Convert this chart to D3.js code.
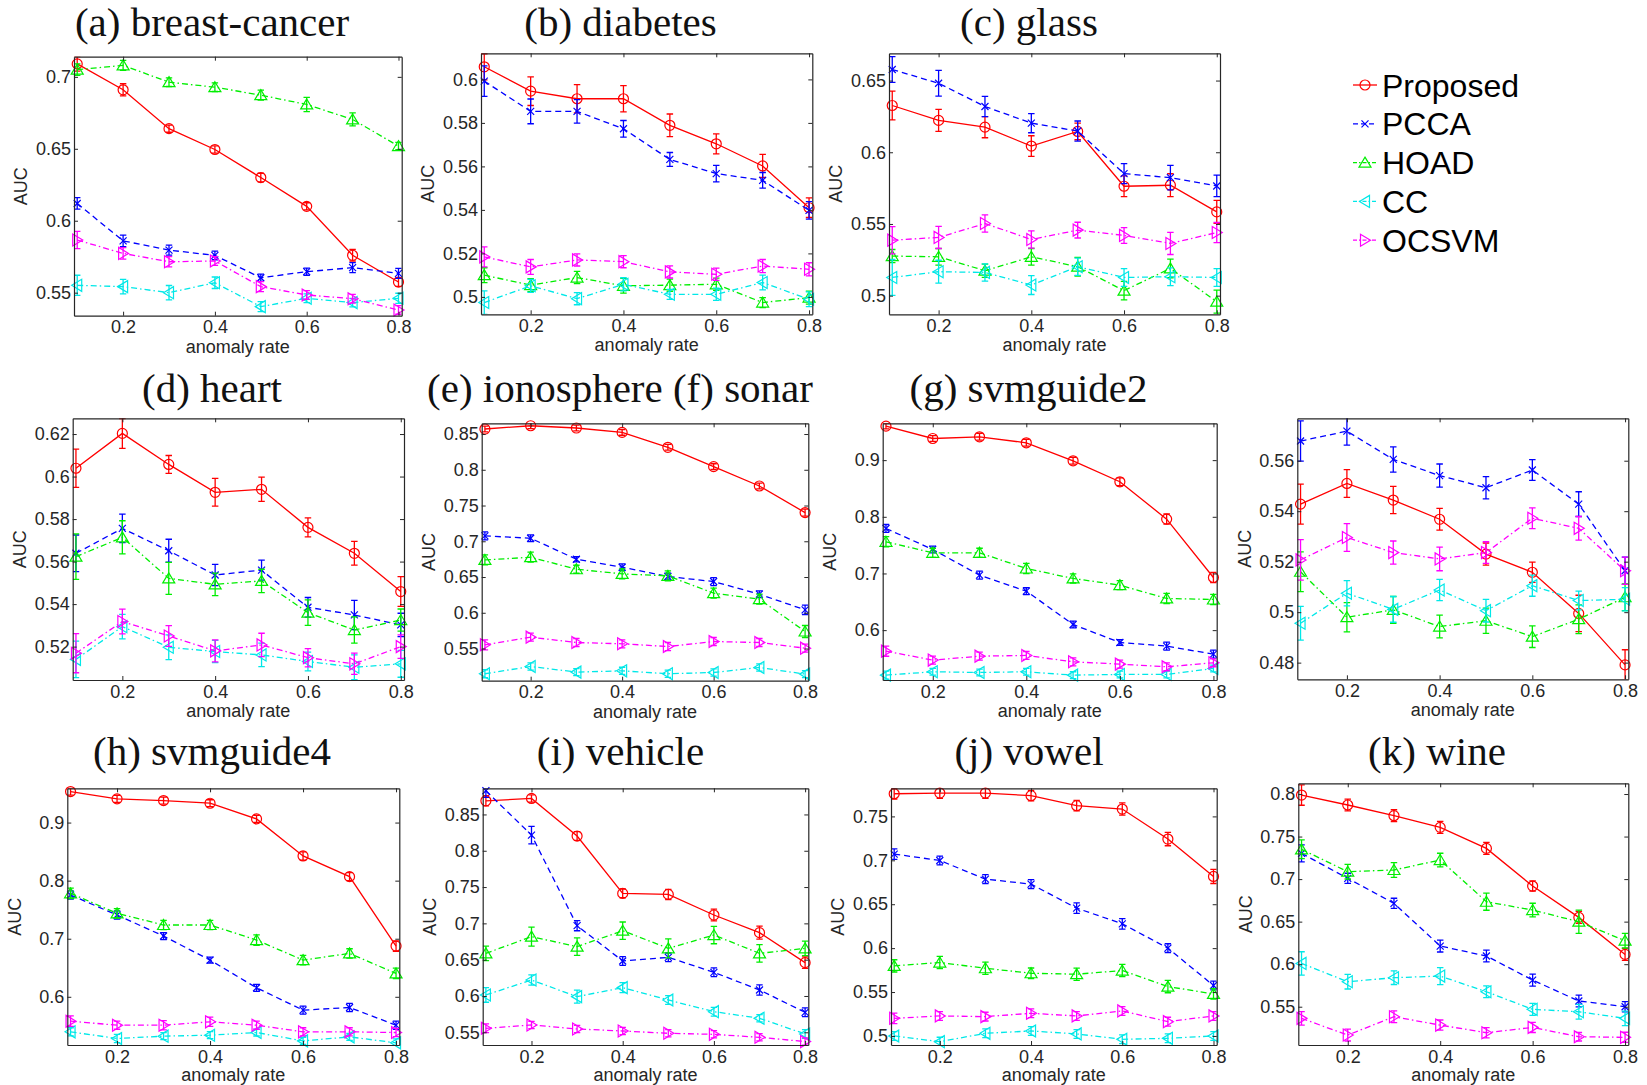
<!DOCTYPE html>
<html>
<head>
<meta charset="utf-8">
<script src="https://cdn.jsdelivr.net/npm/d3@7"></script>
<style>
  body { margin: 0; background: #fff; }
  svg text { font-family: 'Liberation Sans', Arial, sans-serif; }
</style>
</head>
<body>
<svg id="fig" width="1647" height="1085"></svg>
<script>
// x values shared by every panel
const rates = [0.1, 0.2, 0.3, 0.4, 0.5, 0.6, 0.7, 0.8]
const xTicks = [0.2, 0.4, 0.6, 0.8]
const methods = ['Proposed', 'PCCA', 'HOAD', 'CC', 'OCSVM']

// rows: Proposed, PCCA, HOAD, CC, OCSVM
const breastCancerAuc = [
	[0.709, 0.691, 0.664, 0.6495, 0.630, 0.610, 0.576, 0.5574],
	[0.612, 0.586, 0.5796, 0.5759, 0.5604, 0.5646, 0.5674, 0.5634],
	[0.705, 0.708, 0.6963, 0.6928, 0.6873, 0.6808, 0.6704, 0.6519],
	[0.5551, 0.5542, 0.550, 0.5569, 0.5403, 0.5461, 0.5431, 0.5461],
	[0.5866, 0.5773, 0.5715, 0.572, 0.5542, 0.5484, 0.5458, 0.538]
]
const breastCancerErr = [
	[0.005, 0.0042, 0.0025, 0.0025, 0.003, 0.0025, 0.004, 0.003],
	[0.004, 0.004, 0.0035, 0.003, 0.0025, 0.0025, 0.0035, 0.0035],
	[0.004, 0.0035, 0.003, 0.003, 0.0035, 0.005, 0.0045, 0.0025],
	[0.007, 0.005, 0.005, 0.004, 0.0035, 0.003, 0.003, 0.0035],
	[0.006, 0.004, 0.0035, 0.003, 0.0035, 0.003, 0.003, 0.003]
]
const breastCancerTicks = [0.55, 0.6, 0.65, 0.7]

const diabetesAuc = [
	[0.6058, 0.5946, 0.5911, 0.5911, 0.5789, 0.5704, 0.5602, 0.541],
	[0.5992, 0.5853, 0.5853, 0.5773, 0.5632, 0.5567, 0.5536, 0.5398],
	[0.510, 0.5054, 0.5089, 0.5051, 0.5054, 0.5058, 0.4974, 0.4997],
	[0.4974, 0.5051, 0.4992, 0.5058, 0.5012, 0.5012, 0.5066, 0.4989],
	[0.5184, 0.5138, 0.517, 0.5162, 0.5115, 0.5104, 0.5142, 0.5127]
]
const diabetesErr = [
	[0.006, 0.0066, 0.0065, 0.006, 0.0052, 0.0046, 0.0053, 0.0045],
	[0.007, 0.0057, 0.0054, 0.0038, 0.0032, 0.0038, 0.0036, 0.004],
	[0.0034, 0.003, 0.0028, 0.0034, 0.0028, 0.0028, 0.0023, 0.003],
	[0.0054, 0.003, 0.0028, 0.003, 0.0023, 0.0028, 0.0034, 0.0034],
	[0.0046, 0.0034, 0.0028, 0.0028, 0.0028, 0.0028, 0.003, 0.003]
]
const diabetesTicks = [0.5, 0.52, 0.54, 0.56, 0.58, 0.6]

const glassAuc = [
	[0.6326, 0.6222, 0.6175, 0.6043, 0.6145, 0.5763, 0.577, 0.5584],
	[0.6577, 0.6481, 0.6319, 0.6203, 0.6148, 0.5851, 0.5823, 0.5765],
	[0.5276, 0.5271, 0.5174, 0.5271, 0.5202, 0.5035, 0.519, 0.4958],
	[0.5127, 0.5167, 0.5162, 0.5074, 0.5202, 0.5127, 0.5132, 0.5127],
	[0.5387, 0.5406, 0.5503, 0.5392, 0.5457, 0.542, 0.5364, 0.544]
]
const glassErr = [
	[0.01, 0.0077, 0.0074, 0.0072, 0.0058, 0.0072, 0.008, 0.008],
	[0.009, 0.009, 0.007, 0.0067, 0.007, 0.007, 0.0086, 0.0075],
	[0.0046, 0.0058, 0.0046, 0.0058, 0.0065, 0.0065, 0.0065, 0.008],
	[0.0125, 0.008, 0.006, 0.0066, 0.006, 0.0062, 0.0062, 0.0062],
	[0.0095, 0.0077, 0.006, 0.006, 0.0055, 0.0055, 0.0077, 0.007]
]
const glassTicks = [0.5, 0.55, 0.6, 0.65]

const heartAuc = [
	[0.6039, 0.6203, 0.6057, 0.5926, 0.594, 0.5761, 0.5639, 0.5459],
	[0.5639, 0.5756, 0.5651, 0.5537, 0.556, 0.5385, 0.5349, 0.5302],
	[0.5623, 0.5714, 0.5521, 0.5493, 0.5509, 0.536, 0.5278, 0.5325],
	[0.514, 0.5294, 0.5197, 0.5177, 0.5161, 0.513, 0.5103, 0.5119],
	[0.5169, 0.5318, 0.525, 0.518, 0.5208, 0.5148, 0.5119, 0.52]
]
const heartErr = [
	[0.009, 0.007, 0.0042, 0.0065, 0.0057, 0.0045, 0.0056, 0.007],
	[0.0086, 0.0067, 0.0054, 0.005, 0.0047, 0.0046, 0.0069, 0.0055],
	[0.0107, 0.0078, 0.0075, 0.0053, 0.0055, 0.006, 0.0062, 0.0052],
	[0.0086, 0.0058, 0.0058, 0.0052, 0.0055, 0.0044, 0.0058, 0.0063],
	[0.0092, 0.0058, 0.0049, 0.0052, 0.0055, 0.0043, 0.005, 0.0055]
]
const heartTicks = [0.52, 0.54, 0.56, 0.58, 0.6, 0.62]

const ionosphereAuc = [
	[0.857, 0.8616, 0.8584, 0.8523, 0.8314, 0.8044, 0.7773, 0.7401],
	[0.7075, 0.7042, 0.6749, 0.6637, 0.6507, 0.6437, 0.626, 0.6041],
	[0.6739, 0.6777, 0.6609, 0.6544, 0.6516, 0.6274, 0.619, 0.5738],
	[0.5147, 0.5249, 0.517, 0.5188, 0.5147, 0.5165, 0.5235, 0.5142],
	[0.5552, 0.5659, 0.5584, 0.5566, 0.5528, 0.5598, 0.5584, 0.5505]
]
const ionosphereErr = [
	[0.004, 0.004, 0.004, 0.004, 0.004, 0.004, 0.004, 0.005],
	[0.0056, 0.0047, 0.0037, 0.0047, 0.0047, 0.0056, 0.0047, 0.0065],
	[0.007, 0.007, 0.0056, 0.007, 0.007, 0.007, 0.007, 0.0084],
	[0.0056, 0.005, 0.005, 0.005, 0.005, 0.005, 0.005, 0.005],
	[0.007, 0.0056, 0.0056, 0.0056, 0.0056, 0.0056, 0.0056, 0.0056]
]
const ionosphereTicks = [0.55, 0.6, 0.65, 0.7, 0.75, 0.8, 0.85]

const svmguide2Auc = [
	[0.960, 0.9382, 0.9412, 0.9306, 0.8988, 0.8618, 0.7959, 0.6929],
	[0.7794, 0.7424, 0.6971, 0.6688, 0.610, 0.5782, 0.5718, 0.5576],
	[0.7559, 0.7365, 0.7365, 0.7088, 0.6912, 0.6794, 0.6559, 0.6541],
	[0.5206, 0.5265, 0.5253, 0.5265, 0.5206, 0.5218, 0.5218, 0.5324],
	[0.5629, 0.5471, 0.5541, 0.5553, 0.5441, 0.540, 0.5353, 0.5424]
]
const svmguide2Err = [
	[0.005, 0.005, 0.006, 0.006, 0.006, 0.007, 0.009, 0.009],
	[0.007, 0.006, 0.007, 0.006, 0.006, 0.005, 0.007, 0.007],
	[0.009, 0.008, 0.008, 0.009, 0.008, 0.008, 0.009, 0.009],
	[0.007, 0.006, 0.006, 0.006, 0.006, 0.006, 0.006, 0.006],
	[0.009, 0.007, 0.007, 0.007, 0.007, 0.007, 0.007, 0.007]
]
const svmguide2Ticks = [0.6, 0.7, 0.8, 0.9]

// fourth panel of the second row has no title in the figure
const untitledAuc = [
	[0.5428, 0.551, 0.5444, 0.5368, 0.523, 0.5158, 0.4995, 0.4791],
	[0.5678, 0.5717, 0.5605, 0.5541, 0.5493, 0.5563, 0.5428, 0.5164],
	[0.516, 0.498, 0.5009, 0.4943, 0.4966, 0.4903, 0.4972, 0.5059],
	[0.4956, 0.5075, 0.5011, 0.5088, 0.5006, 0.5105, 0.5046, 0.5051],
	[0.5207, 0.5296, 0.5236, 0.5211, 0.5236, 0.5372, 0.5332, 0.5164]
]
const untitledErr = [
	[0.0079, 0.0055, 0.0054, 0.0043, 0.0044, 0.004, 0.0072, 0.006],
	[0.008, 0.0055, 0.005, 0.0046, 0.0044, 0.0041, 0.0049, 0.0054],
	[0.0079, 0.0058, 0.0053, 0.0045, 0.005, 0.0043, 0.0057, 0.0053],
	[0.0067, 0.005, 0.0051, 0.0042, 0.0045, 0.0042, 0.0037, 0.0046],
	[0.008, 0.0055, 0.0046, 0.0047, 0.0043, 0.0041, 0.0047, 0.0054]
]
const untitledTicks = [0.48, 0.5, 0.52, 0.54, 0.56]

const svmguide4Auc = [
	[0.9534, 0.9408, 0.9379, 0.9333, 0.9063, 0.8425, 0.8069, 0.6874],
	[0.7753, 0.7408, 0.7046, 0.6632, 0.6155, 0.577, 0.5816, 0.5511],
	[0.7782, 0.7437, 0.7236, 0.7236, 0.6977, 0.6632, 0.6747, 0.6402],
	[0.5397, 0.5282, 0.5322, 0.5339, 0.5385, 0.5241, 0.531, 0.5207],
	[0.558, 0.5511, 0.5511, 0.5569, 0.5511, 0.5397, 0.5397, 0.5385]
]
const svmguide4Err = [
	[0.006, 0.006, 0.006, 0.006, 0.006, 0.007, 0.007, 0.009],
	[0.007, 0.007, 0.006, 0.005, 0.006, 0.007, 0.007, 0.007],
	[0.009, 0.008, 0.008, 0.008, 0.009, 0.008, 0.008, 0.009],
	[0.007, 0.007, 0.006, 0.006, 0.006, 0.006, 0.006, 0.007],
	[0.009, 0.007, 0.008, 0.008, 0.007, 0.007, 0.007, 0.007]
]
const svmguide4Ticks = [0.6, 0.7, 0.8, 0.9]

const vehicleAuc = [
	[0.8688, 0.872, 0.8202, 0.7413, 0.7399, 0.7115, 0.6872, 0.6459],
	[0.8826, 0.8216, 0.6968, 0.6482, 0.6532, 0.6326, 0.6083, 0.5775],
	[0.6587, 0.6817, 0.6679, 0.6899, 0.6656, 0.6839, 0.6587, 0.6656],
	[0.6014, 0.622, 0.5991, 0.6115, 0.5945, 0.5784, 0.5693, 0.5477],
	[0.5555, 0.5601, 0.5546, 0.5518, 0.5486, 0.5472, 0.5431, 0.5372]
]
const vehicleErr = [
	[0.007, 0.005, 0.006, 0.006, 0.007, 0.008, 0.009, 0.008],
	[0.009, 0.012, 0.007, 0.006, 0.006, 0.006, 0.007, 0.006],
	[0.01, 0.013, 0.012, 0.012, 0.013, 0.012, 0.012, 0.01],
	[0.01, 0.007, 0.009, 0.007, 0.006, 0.006, 0.005, 0.006],
	[0.006, 0.005, 0.005, 0.005, 0.005, 0.005, 0.005, 0.005]
]
const vehicleTicks = [0.55, 0.6, 0.65, 0.7, 0.75, 0.8, 0.85]

const vowelAuc = [
	[0.7758, 0.7766, 0.7766, 0.7736, 0.7622, 0.7584, 0.7242, 0.6816],
	[0.7071, 0.6998, 0.6786, 0.6729, 0.6455, 0.6277, 0.600, 0.5574],
	[0.5798, 0.5836, 0.5771, 0.5714, 0.5703, 0.5745, 0.5562, 0.5479],
	[0.500, 0.4935, 0.503, 0.5057, 0.5023, 0.4962, 0.4973, 0.500],
	[0.5201, 0.5228, 0.522, 0.5258, 0.5228, 0.5285, 0.5163, 0.5228]
]
const vowelErr = [
	[0.006, 0.006, 0.006, 0.006, 0.006, 0.007, 0.0076, 0.008],
	[0.006, 0.005, 0.005, 0.005, 0.006, 0.006, 0.005, 0.005],
	[0.007, 0.007, 0.007, 0.006, 0.007, 0.007, 0.007, 0.006],
	[0.005, 0.005, 0.005, 0.005, 0.005, 0.005, 0.005, 0.005],
	[0.006, 0.005, 0.005, 0.005, 0.005, 0.005, 0.005, 0.005]
]
const vowelTicks = [0.5, 0.55, 0.6, 0.65, 0.7, 0.75]

const wineAuc = [
	[0.7988, 0.7871, 0.7745, 0.7608, 0.7361, 0.6918, 0.655, 0.6115],
	[0.7303, 0.7009, 0.6715, 0.6213, 0.6096, 0.5813, 0.5567, 0.550],
	[0.735, 0.7087, 0.7107, 0.7224, 0.6734, 0.6636, 0.6499, 0.6276],
	[0.6009, 0.5794, 0.5841, 0.586, 0.5676, 0.5469, 0.5441, 0.5363],
	[0.5363, 0.5167, 0.5382, 0.5284, 0.5194, 0.5257, 0.5147, 0.514]
]
const wineErr = [
	[0.012, 0.007, 0.007, 0.007, 0.007, 0.006, 0.007, 0.007],
	[0.01, 0.006, 0.006, 0.007, 0.007, 0.007, 0.007, 0.006],
	[0.011, 0.0086, 0.0086, 0.008, 0.01, 0.008, 0.0137, 0.0086],
	[0.0137, 0.0086, 0.008, 0.01, 0.007, 0.007, 0.0086, 0.0086],
	[0.008, 0.007, 0.007, 0.006, 0.006, 0.006, 0.005, 0.006]
]
const wineTicks = [0.55, 0.6, 0.65, 0.7, 0.75, 0.8]

// layout: plot box [left, top, right, bottom], y limits, title centre
const panels = [
	{title: '(a) breast-cancer', auc: breastCancerAuc, err: breastCancerErr, ticks: breastCancerTicks, yLim: [0.534, 0.714], box: [74, 56.7, 401.7, 315.7], tx: 212, ty: 36},
	{title: '(b) diabetes', auc: diabetesAuc, err: diabetesErr, ticks: diabetesTicks, yLim: [0.492, 0.612], box: [481, 53.3, 812.3, 314.3], tx: 620.5, ty: 36},
	{title: '(c) glass', auc: glassAuc, err: glassErr, ticks: glassTicks, yLim: [0.487, 0.669], box: [889, 53.3, 1220, 314.3], tx: 1029, ty: 36},
	{title: '(d) heart', auc: heartAuc, err: heartErr, ticks: heartTicks, yLim: [0.5043, 0.6274], box: [72.7, 418.3, 404, 680], tx: 212, ty: 401.7},
	{title: '(e) ionosphere (f) sonar', auc: ionosphereAuc, err: ionosphereErr, ticks: ionosphereTicks, yLim: [0.505, 0.865], box: [481.7, 423.3, 808.3, 680.7], tx: 620, ty: 401.7},
	{title: '(g) svmguide2', auc: svmguide2Auc, err: svmguide2Err, ticks: svmguide2Ticks, yLim: [0.512, 0.965], box: [882.7, 423.3, 1216.7, 680], tx: 1028.5, ty: 401.7},
	{title: '', auc: untitledAuc, err: untitledErr, ticks: untitledTicks, yLim: [0.4734, 0.5768], box: [1297.3, 418.3, 1628.3, 679.3], tx: 1437, ty: 401.7},
	{title: '(h) svmguide4', auc: svmguide4Auc, err: svmguide4Err, ticks: svmguide4Ticks, yLim: [0.517, 0.959], box: [67.3, 788.3, 399.3, 1045], tx: 212, ty: 765},
	{title: '(i) vehicle', auc: vehicleAuc, err: vehicleErr, ticks: vehicleTicks, yLim: [0.5325, 0.886], box: [482.7, 788.3, 808.3, 1045], tx: 620.5, ty: 765},
	{title: '(j) vowel', auc: vowelAuc, err: vowelErr, ticks: vowelTicks, yLim: [0.4897, 0.782], box: [891, 788.3, 1216.7, 1045], tx: 1029, ty: 765},
	{title: '(k) wine', auc: wineAuc, err: wineErr, ticks: wineTicks, yLim: [0.505, 0.8126], box: [1298.3, 783.3, 1628.3, 1045], tx: 1437, ty: 765}
]

const xLim = [0.093, 0.807]
const capHalf = 0.007 // errorbar tee width in data units

const markers = {
	circle: 'M5,0A5,5 0 1,1 -5,0A5,5 0 1,1 5,0Z',
	x: 'M-3.5,-3.5L3.5,3.5M-3.5,3.5L3.5,-3.5',
	up: 'M0,-5.5L6,4.5L-6,4.5Z',
	left: 'M-5.5,0L4.5,-6L4.5,6Z',
	right: 'M5.5,0L-4.5,-6L-4.5,6Z'
}
const styles = [
	{color: '#ff0000', dash: null, marker: markers.circle},
	{color: '#0000ff', dash: '6,4', marker: markers.x},
	{color: '#00ee00', dash: '6,3,1.5,3', marker: markers.up},
	{color: '#00e8e8', dash: '6,3,1.5,3', marker: markers.left},
	{color: '#ff00ff', dash: '6,3,1.5,3', marker: markers.right}
]

const fmt = d => String(+d.toFixed(2))
const svg = d3.select('#fig')
const defs = svg.append('defs')

panels.forEach((p, k) => {
	const [l, t, r, b] = p.box
	const x = d3.scaleLinear().domain(xLim).range([l, r])
	const y = d3.scaleLinear().domain(p.yLim).range([b, t])

	defs.append('clipPath').attr('id', 'clip' + k)
		.append('rect')
		.attr('x', l).attr('y', t).attr('width', r - l).attr('height', b - t)

	const g = svg.append('g')

	// series first, box on top
	const plot = g.append('g')
	p.auc.forEach((row, i) => {
		const st = styles[i]
		const pts = rates.map((rt, j) => ({x: rt, v: row[j], e: p.err[i][j]}))

		plot.append('path')
			.datum(pts)
			.attr('clip-path', `url(#clip${k})`)
			.attr('d', d3.line().x(d => x(d.x)).y(d => y(d.v)))
			.attr('fill', 'none')
			.attr('stroke', st.color)
			.attr('stroke-width', 1.3)
			.attr('stroke-dasharray', st.dash);

		plot.append('g')
			.attr('clip-path', `url(#clip${k})`)
			.selectAll('path')
			.data(pts)
			.join('path')
				.attr('d', d => {
					const cx = x(d.x), y0 = y(d.v - d.e), y1 = y(d.v + d.e)
					const xa = x(d.x - capHalf), xb = x(d.x + capHalf)
					return `M${cx},${y0}V${y1}M${xa},${y0}H${xb}M${xa},${y1}H${xb}`
				})
				.attr('fill', 'none')
				.attr('stroke', st.color)
				.attr('stroke-width', 1.3);

		plot.append('g')
			.selectAll('path')
			.data(pts)
			.join('path')
				.attr('transform', d => `translate(${x(d.x)},${y(d.v)})`)
				.attr('d', st.marker)
				.attr('fill', 'none')
				.attr('stroke', st.color)
				.attr('stroke-width', 1.2);
	})

	// axes with inward ticks on all four sides
	const axisColor = '#262626'
	const bottom = g.append('g')
		.attr('transform', `translate(0, ${b})`)
		.call(d3.axisBottom(x).tickValues(xTicks).tickFormat(fmt).tickSizeInner(-4).tickSizeOuter(0).tickPadding(5))
	const left = g.append('g')
		.attr('transform', `translate(${l}, 0)`)
		.call(d3.axisLeft(y).tickValues(p.ticks).tickFormat(fmt).tickSizeInner(-4).tickSizeOuter(0).tickPadding(3))
	const top = g.append('g')
		.attr('transform', `translate(0, ${t})`)
		.call(d3.axisTop(x).tickValues(xTicks).tickFormat('').tickSizeInner(-4).tickSizeOuter(0))
	const right = g.append('g')
		.attr('transform', `translate(${r}, 0)`)
		.call(d3.axisRight(y).tickValues(p.ticks).tickFormat('').tickSizeInner(-4).tickSizeOuter(0))

	;[bottom, left, top, right].forEach(a => {
		a.attr('color', axisColor)
			.attr('font-size', 18)
			.attr('font-family', "'Liberation Sans', Arial, sans-serif")
		a.select('.domain').attr('stroke-width', 1.2)
	})

	// bottom row sits against the page edge, keep its label inside
	g.append('text')
		.attr('x', (l + r) / 2)
		.attr('y', Math.min(b + 37, 1081))
		.attr('text-anchor', 'middle')
		.attr('font-size', 18)
		.attr('fill', axisColor)
		.text('anomaly rate');

	g.append('text')
		.attr('transform', `translate(${l - 53}, ${(t + b) / 2}) rotate(-90)`)
		.attr('text-anchor', 'middle')
		.attr('dy', '0.35em')
		.attr('font-size', 18)
		.attr('fill', axisColor)
		.text('AUC');

	if (p.title) {
		g.append('text')
			.attr('x', p.tx)
			.attr('y', p.ty)
			.attr('text-anchor', 'middle')
			.attr('font-size', 41)
			.attr('fill', '#111')
			.style('font-family', "'Liberation Serif', 'Times New Roman', serif")
			.text(p.title);
	}
})

// legend
const legend = svg.append('g').attr('transform', 'translate(1353, 85)')
methods.forEach((m, i) => {
	const st = styles[i]
	const row = legend.append('g').attr('transform', `translate(0, ${i * 38.8})`)
	row.append('line')
		.attr('x1', 0).attr('x2', 24)
		.attr('stroke', st.color)
		.attr('stroke-width', 1.3)
		.attr('stroke-dasharray', i === 0 ? null : (i === 1 ? '5,3' : '4,2,1.5,2'));
	row.append('path')
		.attr('transform', 'translate(12, 0)')
		.attr('d', st.marker)
		.attr('fill', 'none')
		.attr('stroke', st.color)
		.attr('stroke-width', 1.2);
	row.append('text')
		.attr('x', 29)
		.attr('dy', '0.36em')
		.attr('font-size', 32)
		.attr('fill', '#000')
		.text(m);
})
</script>
</body>
</html>
